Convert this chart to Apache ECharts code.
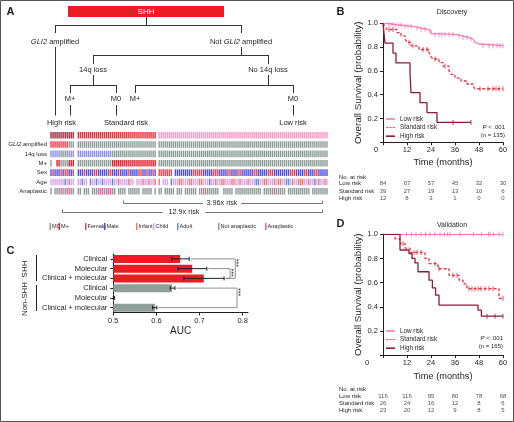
<!DOCTYPE html>
<html>
<head>
<meta charset="utf-8">
<script src="https://cdn.jsdelivr.net/npm/echarts@6.0.0/dist/echarts.min.js"></script>
<style>
html,body{margin:0;padding:0;background:#fff;}
#chart{width:514px;height:422px;}
</style>
</head>
<body>
<div id="chart"></div>
<script>
// ======================= DATA =======================
// ---- Panel A: risk groups and per-sample annotations ('|' separates groups, spaces only for readability)
const riskGroups = ['High risk', 'Standard risk', 'Low risk'];
const annotationRows = ['', 'GLI2 amplified', '14q loss', 'M+', 'Sex', 'Age', 'Anaplastic'];
const gli2Codes = 'AAAAAAAAAN NN|NNNNNNNNNN NNNNNNNNNN NNNNNNNNNN NNNNNNNNN|NNNNNNNNNN NNNNNNNNNN NNNNNNNNNN NNNNNNNNNN NNNNNNNNNN NNNNNNNNNN NNNNNNNNNN NNNNNNNNNN NNNN';
const loss14qCodes = 'LLLLLNNNNL LL|LLLLLLLLLL LLLLLLLNNN NNNNNNNNNN NNNNNNNNN|NNNNNNNNNN NNNNNNNNNN NNNNNNNNNN NNNNNNNNNN NNNNNNNNNN NNNNNNNNNN NNNNNNNNNN NNNNNNNNNN NNNN';
const metastasisCodes = '0--PP0000P PP|0000000000 0000000PPP PPPPPPPPPP PPPPPPPPP|0000000000 0000000000 0000000000 0000000000 0000000000 0000000000 0000000000 0000000000 0000';
const sexCodes = 'MFMMMFMFFM MF|MMMFMMMMFF MMMMMFFMMM FMMMMFMMMM FFMMFMMFM|FFFFFFF-MM MMMMMMMFFF FFMMMMMFFF MMMMFFMMMF FMMMMMMFFM MMMMFFFMMM MMMMMFFFMM MMFFMMMFFM MMMM';
const ageCodes = 'CCCCCCCACI CC|CCACC-ACCA CCACCCCACC ICCCCICC-C CCICCICCI|I-CCC-ACCC IICCCIICCC IICCCACCIC CIICCCIICC ICCCICCCAA CCIICCCICI ICCAACICCI IICCICCACI CCIC';
const anaplasiaCodes = 'N-NNNANNAA NN|NN-NNN-NNN AAANAAANN- NNNN-NNNNN N-NNNNN-N|NN-NNNNN-N NN-NNNNNN- NNANNNNNNN --NNNNN-NN NNNNNNNNNN N-NNNNNANN NNN-NNNNNN NNNNN-NNNN NNNN';
const riskRatioLabels = ['3.96x risk', '12.9x risk'];

// ---- Panel B: Discovery Kaplan-Meier ([months, survival])
const timeTicks = [0, 12, 24, 36, 48, 60];
const discLow = [[0,1],[2,0.99],[6,0.983],[10,0.975],[15,0.96],[19,0.95],[22,0.935],[24,0.914],[26,0.905],[37,0.893],[40,0.88],[43,0.868],[45,0.855],[46,0.84],[47,0.826],[48,0.812],[60,0.812]];
const discLowCensor = [3,4.5,6,7.5,9,11,12.5,14,17,19,21,23.5,26,28,29.5,31,33,35,38,40,42,44,50,53,55,57,58.5,60];
const discStd = [[0,1],[1,0.974],[2,0.948],[7,0.922],[9,0.895],[11,0.868],[12,0.84],[14,0.81],[18,0.78],[23,0.75],[24,0.72],[25,0.70],[28,0.67],[30,0.64],[33,0.60],[34,0.57],[36,0.54],[39,0.515],[42,0.49],[45,0.47],[46,0.45],[60,0.45]];
const discStdCensor = [3,5,13,15,20,22,26,31,48.5,52.5,55,56.5,58,60];
const discHigh = [[0,1],[1,0.833],[5,0.75],[6.5,0.667],[13.5,0.583],[14,0.417],[18.5,0.333],[22,0.25],[27,0.167],[44,0.167]];
const discHighCensor = [35,44];
const discAtRisk = [[84,67,57,45,32,30],[39,27,19,13,10,6],[12,8,3,1,0,0]];

// ---- Panel D: Validation Kaplan-Meier
const valLow = [[0,1],[60,1]];
const valLowCensor = [11.8,14.3,16.5,19,21.3,23.5,26,28.5,30.7,32.3,33.5,38.5,45.2,49.3,52.7,53.5,55.2,58,60];
const valStd = [[0,1],[6,0.962],[8.5,0.923],[11,0.885],[13.5,0.85],[21,0.80],[23,0.757],[27.5,0.715],[33,0.66],[38,0.62],[40,0.59],[42,0.55],[58,0.47],[60,0.47]];
const valStdCensor = [10,15.5,17,19,26,28,35,37,43,44.5,46,47.5,49,51,53,55,60];
const valHigh = [[0,1],[8.5,0.87],[13,0.84],[14.5,0.80],[16,0.763],[17.5,0.69],[23,0.62],[24.7,0.556],[26.3,0.496],[28,0.413],[47.5,0.372],[49.2,0.322],[60,0.322]];
const valHighCensor = [52,56,60];
const valAtRisk = [[116,116,95,80,78,68],[26,24,16,12,8,6],[23,20,12,9,8,5]];

// ---- Panel C: AUC
const aucLabels = ['Clinical','Molecular','Clinical + molecular','Clinical','Molecular','Clinical + molecular'];
const aucCohort = [0,0,0,1,1,1];            // 0 = SHH, 1 = Non-SHH
const aucCohortNames = ['SHH','Non-SHH'];
const aucValues = [0.655, 0.683, 0.710, 0.636, 0.501, 0.597];
const aucLower  = [0.636, 0.650, 0.664, 0.632, 0.500, 0.591];
const aucUpper  = [0.676, 0.717, 0.757, 0.643, 0.503, 0.601];
const aucTests  = [[0, 2, '***'], [1, 2, '***'], [3, 5, '***']];

// ======================= STYLE =======================
const FONT = '"Liberation Sans", Arial, Helvetica, sans-serif';
const NARROW = '"Liberation Sans Narrow", "Liberation Sans", Arial, sans-serif';
const INK = '#231f20';
const GRAY = '#8e9c99';
const C_LOW = '#f27db2', C_STD = '#e6303d', C_HIGH = '#8c1d36';
const riskColors = ['#9d2b41', '#e5303d', '#f59bc3'];
const rowColorMaps = [
  null,
  {A:'#ef3e4b', N:GRAY},
  {L:'#8f90ee', N:GRAY},
  {P:'#df1f2c', '0':GRAY},
  {F:'#ea4452', M:'#4f50e2'},
  {I:'#f27868', C:'#d7a9f2', A:'#5b88d8'},
  {A:'#ea5fa0', N:GRAY}
];
const groupGaps = [0, 1.5, 1];   // gap (in sample widths) before each group

// ======================= BUILD =======================
function splitCodes(str){ return str.split('|').map(s => s.replace(/ /g,'').split('')); }
const rowCodes = [null, splitCodes(gli2Codes), splitCodes(loss14qCodes), splitCodes(metastasisCodes),
                  splitCodes(sexCodes), splitCodes(ageCodes), splitCodes(anaplasiaCodes)];
const groupSizes = rowCodes[1].map(g => g.length);
const groupStarts = [];
let acc = 0;
groupSizes.forEach((n, gi) => { acc += groupGaps[gi]; groupStarts.push(acc); acc += n; });
const totalUnits = acc;
const annotData = [];
groupSizes.forEach((n, gi) => {
  for (let i = 0; i < n; i++) {
    const x = groupStarts[gi] + i + 0.5;
    annotData.push({value:[x, 0], itemStyle:{color: riskColors[gi]}});
    for (let r = 1; r < annotationRows.length; r++) {
      const col = rowColorMaps[r][rowCodes[r][gi][i]];
      if (col) annotData.push({value:[x, r], itemStyle:{color: col}});
    }
  }
});

function survAt(curve, t){ let s = curve[0][1]; for (const p of curve) { if (p[0] <= t) s = p[1]; } return s; }

function kmSeries(idx, name, curve, censor, color, dashed){
  return [
    {type:'line', name, xAxisIndex:idx, yAxisIndex:idx, data:curve, step:'end', showSymbol:false, symbol:'none',
     lineStyle:{color, width:1.3, type: dashed ? [3,2] : 'solid'}, itemStyle:{color}, z:3, animation:false},
    {type:'scatter', name: name + ' censored ' + idx, xAxisIndex:idx, yAxisIndex:idx,
     data: censor.map(t => [t, survAt(curve, t)]), symbol:'rect', symbolSize:[1,5], itemStyle:{color}, z:4, animation:false}
  ];
}
function tableSeries(idx, atRisk){
  const d = [];
  atRisk.forEach((row, r) => row.forEach((n, k) => d.push([timeTicks[k], r, n])));
  return {type:'scatter', xAxisIndex:idx, yAxisIndex:idx, data:d, symbolSize:1, itemStyle:{color:'transparent'},
    label:{show:true, position:'inside', formatter: p => String(p.value[2]), fontSize:6, fontFamily:FONT, color:INK}, animation:false};
}

function kmX(gi, zeroPad, nameGap){
  return {type:'value', gridIndex:gi, min:0, max:60, interval:12, name:'Time (months)', nameLocation:'middle', nameGap,
    nameTextStyle:{fontSize:9.2, fontFamily:NARROW, color:INK},
    axisLine:{show:true, lineStyle:{color:INK, width:1}}, axisTick:{show:true, length:3, lineStyle:{color:INK}},
    splitLine:{show:false},
    axisLabel:{fontSize:7.5, color:INK, fontFamily:FONT, margin:4,
      formatter: v => v === 0 ? '{o|0}' : String(v),
      rich:{o:{padding:[0, zeroPad, 0, 0], fontSize:7.5, fontFamily:FONT, color:INK}}}};
}
function kmY(gi){
  return {type:'value', gridIndex:gi, min:0, max:1, interval:0.2, name:'Overall Survival (probability)',
    nameLocation:'middle', nameGap:20, nameRotate:90,
    nameTextStyle:{fontSize:9.8, fontFamily:NARROW, color:INK},
    axisLine:{show:true, lineStyle:{color:INK, width:1}}, axisTick:{show:true, length:3, lineStyle:{color:INK}},
    splitLine:{show:false},
    axisLabel:{fontSize:7.5, color:INK, fontFamily:FONT, margin:5, formatter: v => v === 0 ? '' : v.toFixed(1)}};
}
function tableX(gi){ return {type:'value', gridIndex:gi, min:0, max:60, show:false}; }
function tableY(gi){
  return {type:'category', gridIndex:gi, data: riskGroups.slice().reverse(), inverse:true,
    axisLine:{show:false}, axisTick:{show:false}, splitLine:{show:false},
    axisLabel:{interval:0, align:'left', margin:44, fontSize:6, fontFamily:FONT, color:INK}};
}
const DASH_ICON = 'path://M0 0h5v2h-5z M7 0h5v2h-5z M14 0h5v2h-5z';
function kmLegend(top){
  return {left:386, top, orient:'vertical', itemWidth:9, itemHeight:1.6, itemGap:2.6, padding:0, selectedMode:false,
    data:[{name:'Low risk', icon:'rect', itemStyle:{color:C_LOW}},
          {name:'Standard risk', icon:DASH_ICON, itemStyle:{color:C_STD}},
          {name:'High risk', icon:'rect', itemStyle:{color:C_HIGH}}],
    textStyle:{fontSize:6.3, fontFamily:FONT, color:INK}};
}

// ---- graphics (tree, labels, brackets, legends)
const G = [];
const L = (x1,y1,x2,y2,stroke='#333',w=1) => G.push({type:'line', silent:true, shape:{x1,y1,x2,y2}, style:{stroke, lineWidth:w}});
const T = (x,y,text,opt={}) => G.push({type:'text', silent:true, x, y, style:Object.assign({text, fontSize:7.5, fontFamily:FONT, fill:INK, align:'center', verticalAlign:'middle'}, opt)});

G.push({type:'rect', silent:true, shape:{x:0.5,y:0.5,width:513,height:421}, style:{fill:'none', stroke:'#555', lineWidth:1}});
// panel letters
T(10.5,12,'A',{fontSize:11,fontWeight:'bold'}); T(340.5,12,'B',{fontSize:11,fontWeight:'bold'});
T(10.5,251,'C',{fontSize:11,fontWeight:'bold'}); T(340.5,224,'D',{fontSize:11,fontWeight:'bold'});
// tree
G.push({type:'rect', silent:true, shape:{x:68,y:6,width:156,height:11}, style:{fill:'#ed1c24'}});
T(146,12,'SHH',{fill:'#fff',fontSize:8});
L(146.5,17,146.5,25.5); L(55.5,25.5,241.5,25.5); L(55.5,25,55.5,33); L(241.5,25,241.5,33);
T(55,41.5,'{i|GLI2} amplified',{rich:{i:{fontStyle:'italic',fontSize:7.5,fontFamily:FONT,fill:INK}}});
T(241,41.5,'Not {i|GLI2} amplified',{rich:{i:{fontStyle:'italic',fontSize:7.5,fontFamily:FONT,fill:INK}}});
L(55.5,47,55.5,115.5); L(241.5,47,241.5,55.5); L(93.5,55.5,268.5,55.5);
L(93.5,55,93.5,64); L(268.5,55,268.5,64);
T(93,70,'14q loss'); T(268,70,'No 14q loss');
L(93.5,75,93.5,85.5); L(268.5,75,268.5,85.5);
L(70.5,85.5,116.5,85.5); L(135.5,85.5,293.5,85.5);
L(70.5,85,70.5,93); L(116.5,85,116.5,93); L(135.5,85,135.5,93); L(293.5,85,293.5,93);
T(70,99,'M+'); T(116,99,'M0'); T(135,99,'M+'); T(293,99,'M0');
L(70.5,105,70.5,115.5); L(116.5,105,116.5,115.5); L(293.5,105,293.5,115.5);
T(61.5,123,riskGroups[0]); T(126,123,riskGroups[1]); T(293,123,riskGroups[2]);
// risk ratio brackets
L(123.5,200.5,123.5,203.5,'#555',0.8); L(123.5,203.5,203,203.5,'#555',0.8); T(222,203.5,riskRatioLabels[0],{fontSize:7.2}); L(241,203.5,322.5,203.5,'#555',0.8); L(322.5,200.5,322.5,203.5,'#555',0.8);
L(62.5,209.5,62.5,212.5,'#555',0.8); L(62.5,212.5,163,212.5,'#555',0.8); T(184,212.5,riskRatioLabels[1],{fontSize:7.2}); L(205,212.5,322.5,212.5,'#555',0.8); L(322.5,209.5,322.5,212.5,'#555',0.8);
// legend of panel A
[[49.5,GRAY,'M0'],[58.5,'#df1f2c','M+'],[85,'#ea4452','Female'],[104,'#4f50e2','Male'],
 [136,'#f27868','Infant'],[153,'#d7a9f2','Child'],[177,'#5b88d8','Adult'],[218,GRAY,'Not anaplastic'],[265,'#ea5fa0','Anaplastic']]
 .forEach(([x,c,t]) => { G.push({type:'rect', silent:true, shape:{x, y:223, width:1.5, height:7}, style:{fill:c}}); T(x+2.5,226.8,t,{fontSize:5.6,align:'left'}); });
// panel C cohort labels
G.push({type:'text', silent:true, x:25, y:269, rotation:Math.PI/2, style:{text:aucCohortNames[0], fontSize:8, fontFamily:FONT, fill:INK, align:'center', verticalAlign:'middle'}});
G.push({type:'text', silent:true, x:25, y:299, rotation:Math.PI/2, style:{text:aucCohortNames[1], fontSize:8, fontFamily:FONT, fill:INK, align:'center', verticalAlign:'middle'}});
L(36.5,255,36.5,281,INK,1); L(36.5,285,36.5,311,INK,1);
// KM titles, p-values, at-risk headers
T(452,12,'Discovery',{fontSize:7}); T(452,225,'Validation',{fontSize:7});
T(505,127.5,'{i|P} < .001',{fontSize:6,align:'right',rich:{i:{fontStyle:'italic',fontSize:6,fontFamily:FONT,fill:INK}}});
T(505,135.5,'(n = 135)',{fontSize:6,align:'right'});
T(503,338.5,'{i|P} < .001',{fontSize:6,align:'right',rich:{i:{fontStyle:'italic',fontSize:6,fontFamily:FONT,fill:INK}}});
T(503,346.5,'(n = 165)',{fontSize:6,align:'right'});
T(339,177,'No. at risk',{fontSize:6,align:'left'}); T(339,389,'No. at risk',{fontSize:6,align:'left'});

// ======================= OPTION =======================
const option = {
  animation:false,
  backgroundColor:'#fff',
  textStyle:{fontFamily:FONT},
  grid:[
    {left:50, top:130.5, width:278, height:65.5, outerBoundsMode:'none'},      // 0 A annotations
    {left:383, top:23.3, width:120, height:119, outerBoundsMode:'none'},       // 1 B
    {left:383, top:180, width:120, height:22, outerBoundsMode:'none'},         // 2 B table
    {left:113.3, top:254, width:134.7, height:58.5, outerBoundsMode:'none'},   // 3 C
    {left:383, top:234.3, width:120, height:120.8, outerBoundsMode:'none'},    // 4 D
    {left:383, top:392.5, width:120, height:22, outerBoundsMode:'none'}        // 5 D table
  ],
  xAxis:[
    {type:'value', gridIndex:0, min:0, max:totalUnits, show:false},
    kmX(1, 14, 16),
    tableX(2),
    {type:'value', gridIndex:3, min:0.5, max:0.8125, name:'AUC', nameLocation:'middle', nameGap:14,
     nameTextStyle:{fontSize:10, fontFamily:FONT, color:INK},
     axisLine:{show:true, lineStyle:{color:INK}}, splitLine:{show:false},
     axisTick:{show:true, length:3, lineStyle:{color:INK}, customValues:[0.5,0.6,0.7,0.8]},
     axisLabel:{fontSize:7.5, color:INK, fontFamily:FONT, margin:4, customValues:[0.5,0.6,0.7,0.8], formatter: v => v.toFixed(1)}},
    kmX(4, 32, 17),
    tableX(5)
  ],
  yAxis:[
    {type:'category', gridIndex:0, data:annotationRows, inverse:true, axisLine:{show:false}, axisTick:{show:false},
     axisLabel:{interval:0, margin:3, fontSize:6, fontFamily:FONT, color:INK,
       formatter: v => v === 'GLI2 amplified' ? '{i|GLI2} amplified' : v,
       rich:{i:{fontStyle:'italic', fontSize:6, fontFamily:FONT, color:INK}}}},
    kmY(1),
    tableY(2),
    {type:'category', gridIndex:3, data: aucLabels.map((l,i) => aucCohortNames[aucCohort[i]] + '|' + l), inverse:true,
     axisLine:{show:true, lineStyle:{color:INK}}, axisTick:{show:true, length:3, alignWithLabel:true, lineStyle:{color:INK}},
     axisLabel:{interval:0, margin:6, fontSize:7.5, fontFamily:FONT, color:INK, formatter: v => v.split('|')[1]}},
    kmY(4),
    tableY(5)
  ],
  legend:[kmLegend(116), kmLegend(328)],
  graphic: G,
  series:[
    {type:'custom', xAxisIndex:0, yAxisIndex:0, data:annotData, encode:{x:0, y:1}, animation:false,
     renderItem:(params, api) => {
       const p = api.coord([api.value(0), api.value(1)]);
       const s = api.size([1, 1]);
       const w = s[0] * 0.7, h = 6.6;
       return {type:'rect', shape:{x:p[0]-w/2, y:p[1]-h/2, width:w, height:h}, style:{fill:api.visual('color')}};
     }},
    ...kmSeries(1, 'Low risk', discLow, discLowCensor, C_LOW, false),
    ...kmSeries(1, 'Standard risk', discStd, discStdCensor, C_STD, true),
    ...kmSeries(1, 'High risk', discHigh, discHighCensor, C_HIGH, false),
    tableSeries(2, discAtRisk),
    ...kmSeries(4, 'Low risk', valLow, valLowCensor, C_LOW, false),
    ...kmSeries(4, 'Standard risk', valStd, valStdCensor, C_STD, true),
    ...kmSeries(4, 'High risk', valHigh, valHighCensor, C_HIGH, false),
    tableSeries(5, valAtRisk),
    // C bars
    {type:'custom', xAxisIndex:3, yAxisIndex:3, encode:{x:0, y:1}, animation:false,
     data: aucValues.map((v,i) => [v, i, aucCohort[i]]),
     renderItem:(params, api) => {
       const p = api.coord([api.value(0), api.value(1)]);
       const x0 = params.coordSys.x;
       return {type:'rect', shape:{x:x0, y:p[1]-4, width:Math.max(0, p[0]-x0), height:8},
               style:{fill: api.value(2) === 0 ? '#ed1c24' : '#8fa09b'}};
     }},
    // C error bars
    {type:'custom', xAxisIndex:3, yAxisIndex:3, encode:{x:[0,1], y:2}, animation:false, z:5,
     data: aucLower.map((lo,i) => [lo, aucUpper[i], i]),
     renderItem:(params, api) => {
       const a = api.coord([api.value(0), api.value(2)]);
       const b = api.coord([api.value(1), api.value(2)]);
       const st = {stroke:INK, lineWidth:1};
       return {type:'group', children:[
         {type:'line', shape:{x1:a[0], y1:a[1], x2:b[0], y2:b[1]}, style:st},
         {type:'line', shape:{x1:a[0], y1:a[1]-2, x2:a[0], y2:a[1]+2}, style:st},
         {type:'line', shape:{x1:b[0], y1:b[1]-2, x2:b[0], y2:b[1]+2}, style:st}]};
     }},
    // C significance brackets
    {type:'custom', xAxisIndex:3, yAxisIndex:3, encode:{x:[0,2,4], y:[1,3]}, animation:false, z:4,
     data: aucTests.map((t, k) => [aucUpper[t[0]], t[0], aucUpper[t[1]], t[1], [0.783, 0.771, 0.787][k]]),
     renderItem:(params, api) => {
       const a = api.coord([api.value(0), api.value(1)]);
       const b = api.coord([api.value(4), api.value(1)]);
       const c = api.coord([api.value(4), api.value(3)]);
       const d = api.coord([api.value(2), api.value(3)]);
       const label = aucTests[params.dataIndex][2];
       return {type:'group', children:[
         {type:'polyline', shape:{points:[[a[0]+1.5,a[1]],[b[0],b[1]],[c[0],c[1]],[d[0]+1.5,d[1]]]}, style:{stroke:'#777', lineWidth:0.8, fill:null}},
         {type:'text', x:b[0]+4, y:b[1]+4, rotation:Math.PI/2,
          style:{text:label, fontSize:7, fontFamily:FONT, fill:INK, align:'center', verticalAlign:'middle'}}]};
     }}
  ]
};

const chart = echarts.init(document.getElementById('chart'), null, {renderer:'canvas'});
chart.setOption(option);
</script>
</body>
</html>
